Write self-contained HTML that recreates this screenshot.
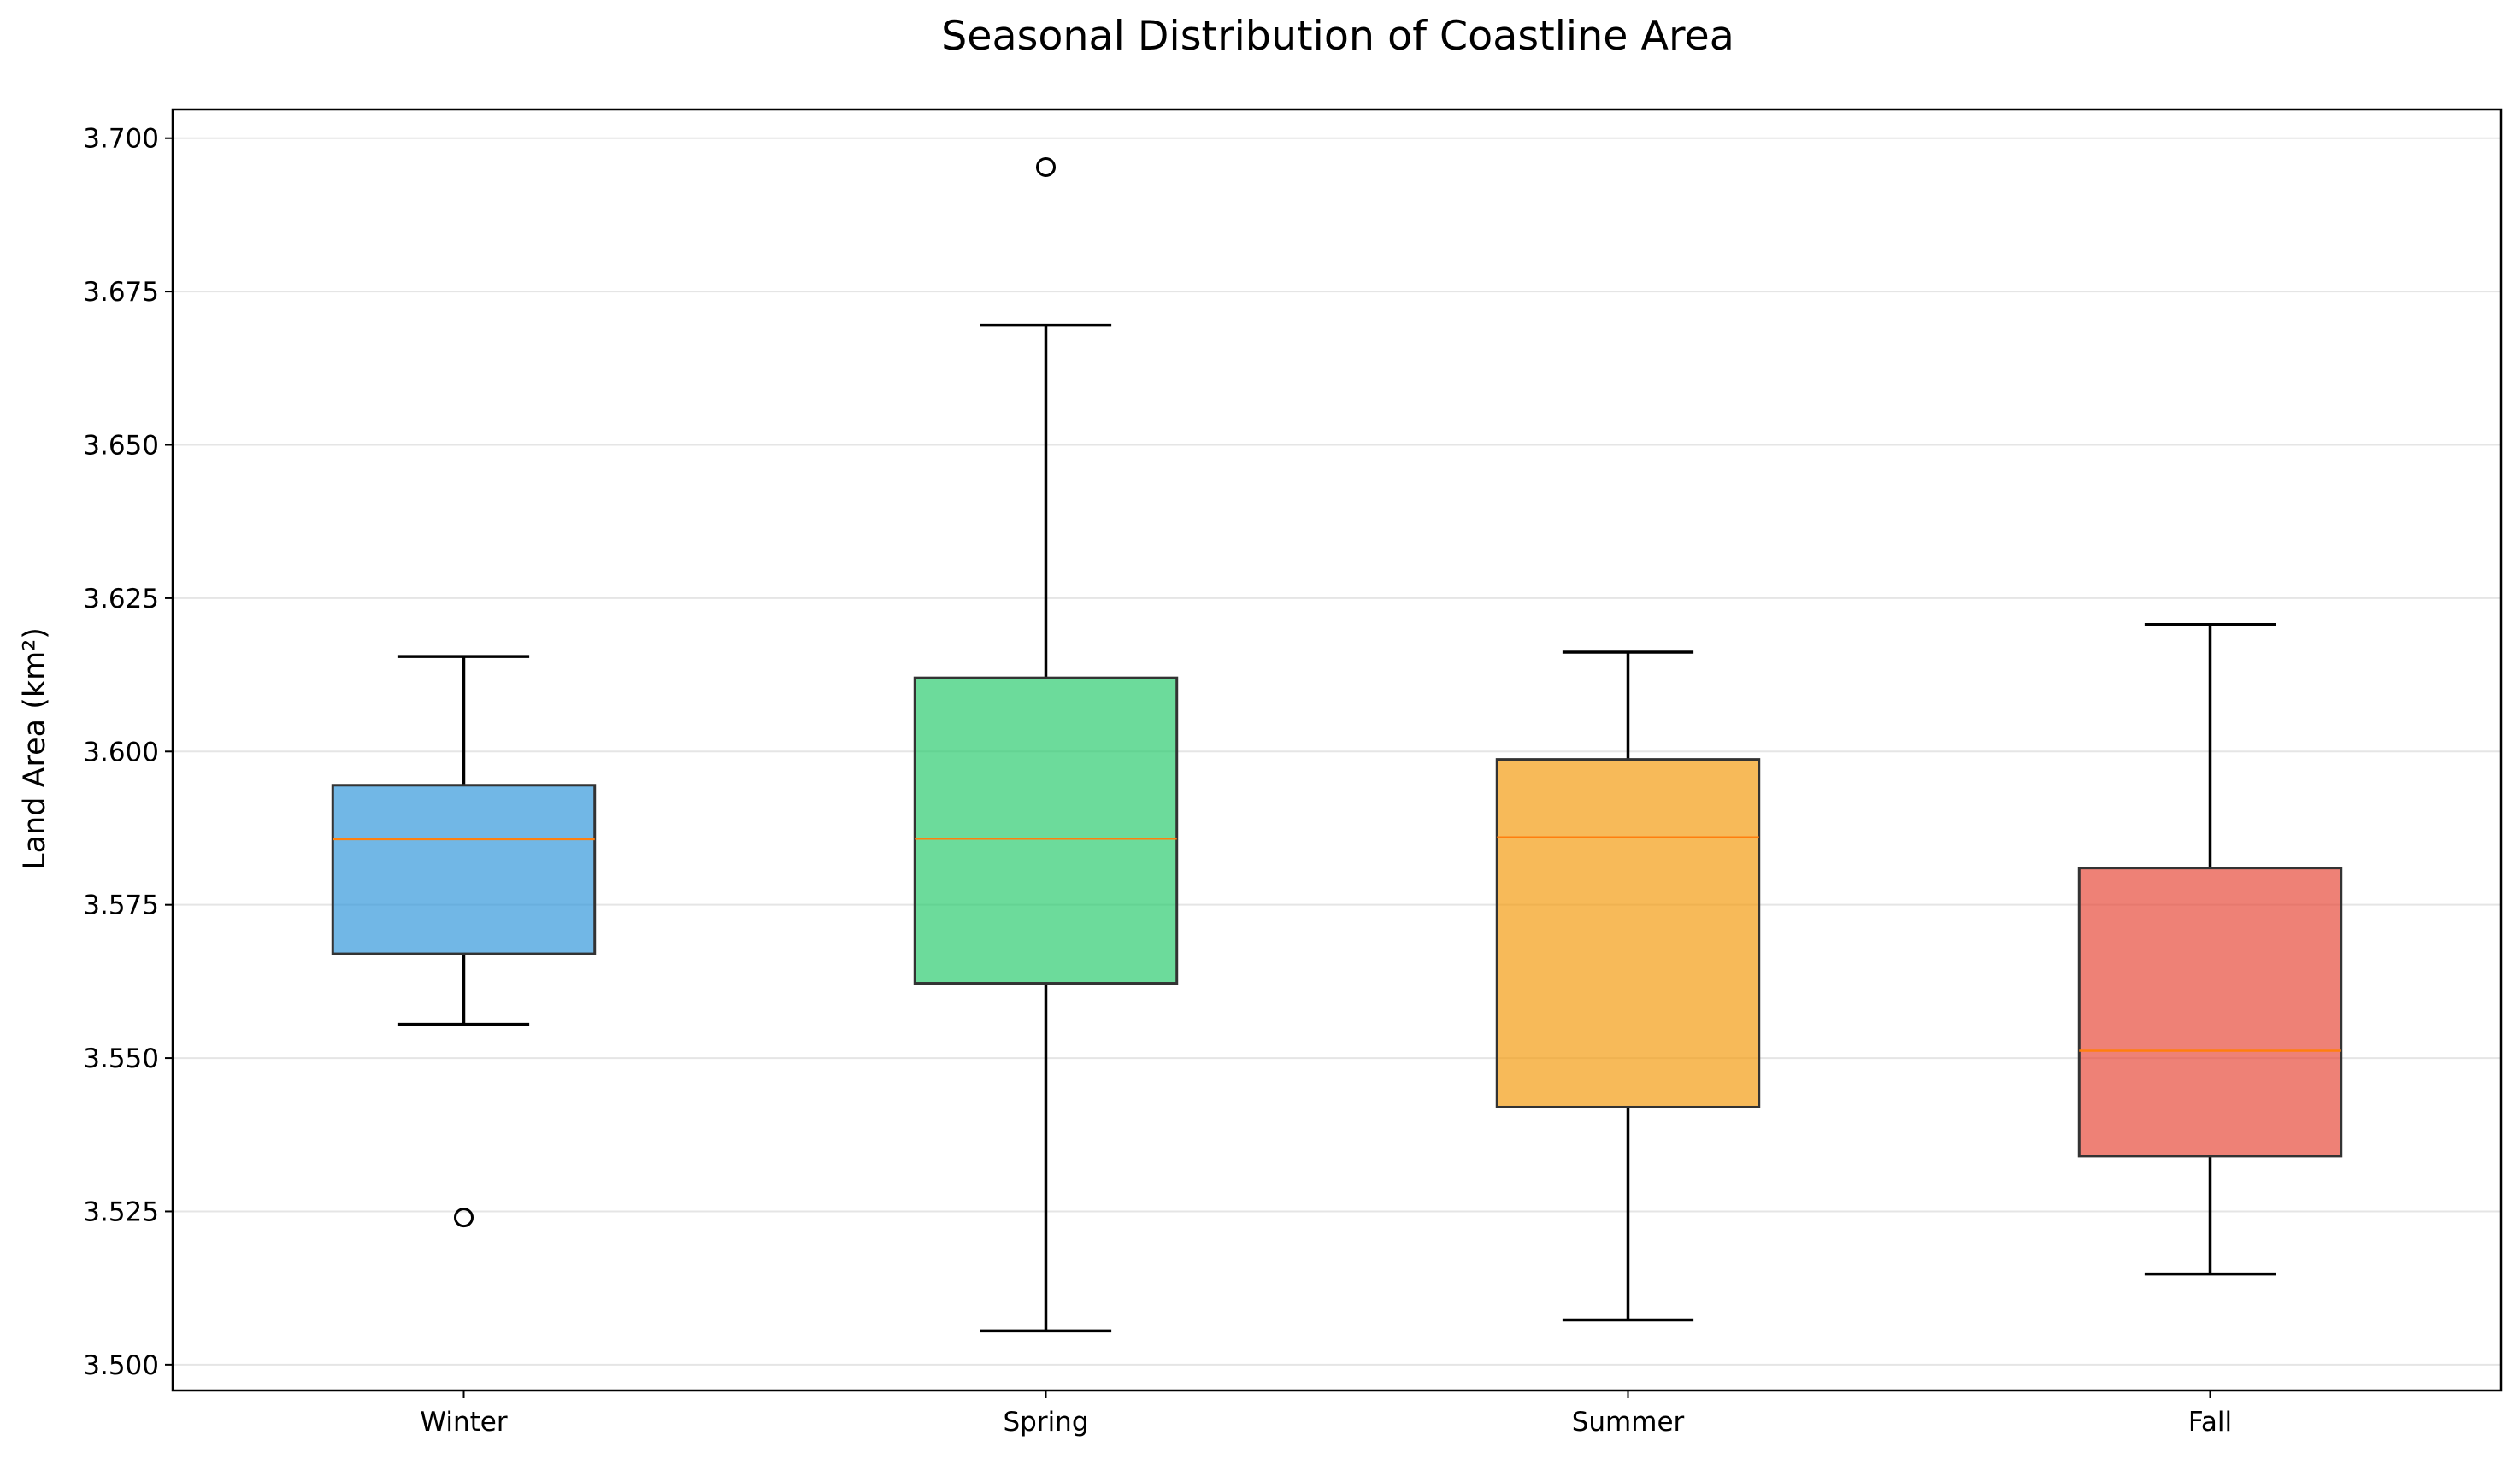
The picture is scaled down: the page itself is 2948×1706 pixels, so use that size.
<!DOCTYPE html>
<html><head><meta charset="utf-8"><style>
html,body{margin:0;padding:0;background:#fff}
svg{display:block;font-family:"DejaVu Sans","Liberation Sans",sans-serif}
</style></head><body>
<svg id="chart" width="2948" height="1706" viewBox="0 0 2948 1706" xmlns="http://www.w3.org/2000/svg">
<rect width="2948" height="1706" fill="#fff"/>
<text x="1565" y="58" text-anchor="middle" font-size="47.5" fill="#000">Seasonal Distribution of Coastline Area</text>
<text transform="translate(52,876) rotate(-90)" text-anchor="middle" font-size="35" fill="#000">Land Area (km²)</text>
<g id="grid"></g>
<g id="boxes"></g>
<rect x="202" y="128" width="2724" height="1499" fill="none" stroke="#000" stroke-width="2.5"/>
<g id="axes"></g>
</svg>
<script>
const categories = ["Winter","Spring","Summer","Fall"];
const whiskerLow = [3.5555,3.5055,3.5073,3.5148];
const q1Values = [3.5670,3.5622,3.5420,3.5340];
const medianValues = [3.5857,3.5858,3.5860,3.5512];
const q3Values = [3.5945,3.6120,3.5987,3.5810];
const whiskerHigh = [3.6155,3.6695,3.6162,3.6207];
const outlierValues = [[3.5240],[3.6953],[],[]];
const yTicks = [3.500,3.525,3.550,3.575,3.600,3.625,3.650,3.675,3.700];
const colors = ["#3498db","#2ecc71","#f39c12","#e74c3c"];

const L=202,R=2926,T=128,B=1627;
const yMin=3.4958,yMax=3.7047;
const y=v=>B-(v-yMin)/(yMax-yMin)*(B-T);
const step=(R-L)/categories.length;
const x=i=>L+step*(i+0.5);
const NS="http://www.w3.org/2000/svg";
function mk(tag,attrs,parent){const e=document.createElementNS(NS,tag);for(const k in attrs)e.setAttribute(k,attrs[k]);parent.appendChild(e);return e;}
const grid=document.getElementById('grid'),boxes=document.getElementById('boxes'),axes=document.getElementById('axes');

yTicks.forEach(t=>{
  const g=mk('line',{x1:L,x2:R,y1:y(t),y2:y(t),stroke:'#e5e5e5','stroke-width':2},grid);
  
  
  const tk=mk('line',{x1:L-9,x2:L,y1:y(t),y2:y(t),stroke:'#000','stroke-width':2},axes);
  
  
  const lb=mk('text',{x:L-16,y:y(t)+11,'text-anchor':'end','font-size':31,fill:'#000'},axes);
  
  
  lb.textContent=t.toFixed(3);
});

const bw=step*0.45, cw=bw/2;
categories.forEach((c,i)=>{
  const cx=x(i);
  const g=mk('g',{},boxes);
  
  
  mk('line',{x1:cx,x2:cx,y1:y(whiskerHigh[i]),y2:y(q3Values[i]),stroke:'#000','stroke-width':3.5},g);
  mk('line',{x1:cx,x2:cx,y1:y(q1Values[i]),y2:y(whiskerLow[i]),stroke:'#000','stroke-width':3.5},g);
  mk('line',{x1:cx-cw/2,x2:cx+cw/2,y1:y(whiskerHigh[i]),y2:y(whiskerHigh[i]),stroke:'#000','stroke-width':3.5},g);
  mk('line',{x1:cx-cw/2,x2:cx+cw/2,y1:y(whiskerLow[i]),y2:y(whiskerLow[i]),stroke:'#000','stroke-width':3.5},g);
  mk('rect',{x:cx-bw/2,y:y(q3Values[i]),width:bw,height:y(q1Values[i])-y(q3Values[i]),fill:colors[i],'fill-opacity':0.7,stroke:'#333','stroke-width':3},g);
  mk('line',{x1:cx-bw/2,x2:cx+bw/2,y1:y(medianValues[i]),y2:y(medianValues[i]),stroke:'#ff7f0e','stroke-width':2.5},g);
  outlierValues[i].forEach(v=>{
    const o=mk('circle',{cx:cx,cy:y(v),r:10,fill:'none',stroke:'#000','stroke-width':3},g);
    
    
  });
  const tk=mk('line',{x1:cx,x2:cx,y1:B,y2:B+9,stroke:'#000','stroke-width':2},axes);
  
  
  const lb=mk('text',{x:cx,y:B+47,'text-anchor':'middle','font-size':31,fill:'#000'},axes);
  
  
  lb.textContent=c;
});
</script>
</body></html>
